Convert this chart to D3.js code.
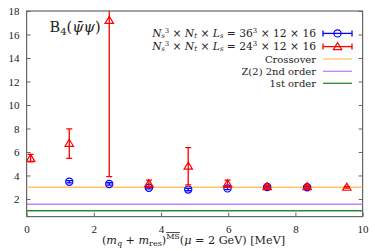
<!DOCTYPE html>
<html><head><meta charset="utf-8">
<script src="https://cdn.jsdelivr.net/npm/d3@7"></script>
<style>body{margin:0;background:#fff}svg{display:block}text{font-family:"DejaVu Serif",serif;fill:#222}</style>
</head><body><svg id="c" width="381" height="251"></svg>
<script>
const blueX = [1.27, 2.46, 3.64, 4.81, 5.98, 7.16, 8.35];
const blueY = [3.47, 3.28, 2.96, 2.80, 2.90, 3.02, 3.00];
const blueLo = [3.37, 3.18, 2.86, 2.70, 2.80, 2.94, 2.92];
const blueHi = [3.57, 3.38, 3.06, 2.90, 3.00, 3.10, 3.08];
const redX = [0.12, 1.27, 2.46, 3.64, 4.81, 5.98, 7.16, 8.35, 9.53];
const redY = [5.46, 6.74, 17.2, 3.30, 4.80, 3.30, 3.05, 3.05, 3.00];
const redLo = [5.15, 5.46, 3.9, 3.0, 3.2, 3.0, 2.92, 2.92, 2.92];
const redHi = [5.8, 7.96, 30.5, 3.6, 6.37, 3.6, 3.18, 3.18, 3.08];
const hLines = [3.0, 1.55, 1.0];
const hColors = ["#ffc46b", "#c080ff", "#2a8a2a"];
const xTicks = [0, 2, 4, 6, 8, 10];
const yTicks = [2, 4, 6, 8, 10, 12, 14, 16, 18];

const svg = d3.select("#c");
const x = d3.scaleLinear().domain([0, 10]).range([26.6, 362.6]);
const y = d3.scaleLinear().domain([0.5, 18]).range([216.6, 11]);
const [x0, x1] = x.range(), [y0, y1] = y.range();

svg.append("clipPath").attr("id","cp").append("rect").attr("x",x0).attr("y",y1).attr("width",x1-x0).attr("height",y0-y1);

const frame = "#666";
const gx = svg.append("g").attr("transform",`translate(0,${y0})`).call(d3.axisBottom(x).tickValues(xTicks).tickSize(-4).tickPadding(9).tickFormat(d3.format("d")));
const gy = svg.append("g").attr("transform",`translate(${x0},0)`).call(d3.axisLeft(y).tickValues(yTicks).tickSize(-4).tickPadding(7).tickFormat(d3.format("d")));
const gr = svg.append("g").attr("transform",`translate(${x1},0)`).call(d3.axisRight(y).tickValues(yTicks).tickSize(-4).tickFormat(""));
[gx,gy,gr].forEach(g=>{g.select(".domain").remove();g.selectAll("line").attr("stroke",frame);g.selectAll("text").style("font-size","11px").attr("fill","#222").style("font-family","'Liberation Serif',serif");});
svg.append("rect").attr("x",x0).attr("y",y1).attr("width",x1-x0).attr("height",y0-y1).attr("fill","none").attr("stroke",frame).attr("stroke-width",1.2);

const plot = svg.append("g").attr("clip-path","url(#cp)");
hLines.forEach((v,i)=>plot.append("line").attr("x1",x0).attr("x2",x1).attr("y1",y(v)).attr("y2",y(v)).attr("stroke",hColors[i]).attr("stroke-width",1.3));

function tri(cx, cy, s){ return `M${cx},${cy-s} L${cx+s*1.05},${cy+s*0.75} L${cx-s*1.05},${cy+s*0.75} Z`; }
function errbars(g, xs, lo, hi, col){
  xs.forEach((xv,i)=>{
    const px = x(xv);
    g.append("line").attr("x1",px).attr("x2",px).attr("y1",y(lo[i])).attr("y2",y(hi[i])).attr("stroke",col).attr("stroke-width",1.3);
    [lo[i],hi[i]].forEach(v=>g.append("line").attr("x1",px-3).attr("x2",px+3).attr("y1",y(v)).attr("y2",y(v)).attr("stroke",col).attr("stroke-width",1.3));
  });
}
errbars(plot, blueX, blueLo, blueHi, "#0000ff");
blueX.forEach((xv,i)=>plot.append("circle").attr("cx",x(xv)).attr("cy",y(blueY[i])).attr("r",3.6).attr("fill","none").attr("stroke","#0000ff").attr("stroke-width",1.2));
errbars(plot, redX, redLo, redHi, "#ff0000");
redX.forEach((xv,i)=>plot.append("path").attr("d",tri(x(xv),y(redY[i]),4)).attr("fill","none").attr("stroke","#ff0000").attr("stroke-width",1.2));

// title
const t = svg.append("text").attr("x",49.5).attr("y",32.3).style("font-size","14.5px");
t.append("tspan").text("B");
t.append("tspan").attr("dy",3).style("font-size","10px").text("4");
t.append("tspan").attr("dy",-3).text("(");
t.append("tspan").style("font-style","italic").text("ψ\u0304ψ");
t.append("tspan").text(")");

// legend
const lx = 316, ls0 = 323, ls1 = 352;
const rows = [33.4, 46.6, 59, 71.3, 83.3];
function mathLabel(yy, vol){
  const tx = svg.append("text").attr("x",lx).attr("y",yy+3.3).attr("text-anchor","end").style("font-size","10.7px");
  tx.append("tspan").style("font-style","italic").text("N");
  tx.append("tspan").attr("dy",1.3).style("font-size","6.5px").style("font-style","italic").text("s");
  tx.append("tspan").attr("dy",-5).style("font-size","6.5px").text("3");
  tx.append("tspan").attr("dy",3.7).text(" × ");
  tx.append("tspan").style("font-style","italic").text("N");
  tx.append("tspan").attr("dy",1.3).style("font-size","7px").style("font-style","italic").text("t");
  tx.append("tspan").attr("dy",-1.3).text(" × ");
  tx.append("tspan").style("font-style","italic").text("L");
  tx.append("tspan").attr("dy",1.3).style("font-size","7px").style("font-style","italic").text("s");
  tx.append("tspan").attr("dy",-1.3).text(" = " + vol);
  tx.append("tspan").attr("dy",-3.6).style("font-size","7px").text("3");
  tx.append("tspan").attr("dy",3.6).text(" × 12 × 16");
}
mathLabel(rows[0], "36");
mathLabel(rows[1], "24");
["Crossover","Z(2) 2nd order","1st order"].forEach((s,i)=>{
  svg.append("text").attr("x",lx).attr("y",rows[i+2]+3.5).attr("text-anchor","end").style("font-size","10px").text(s);
  svg.append("line").attr("x1",ls0).attr("x2",ls1).attr("y1",rows[i+2]).attr("y2",rows[i+2]).attr("stroke",hColors[i]).attr("stroke-width",1.3);
});
[["#0000ff",0],["#ff0000",1]].forEach(([c,i])=>{
  const yy = rows[i];
  svg.append("line").attr("x1",ls0).attr("x2",ls1).attr("y1",yy).attr("y2",yy).attr("stroke",c).attr("stroke-width",1.3);
  [ls0,ls1].forEach(px=>svg.append("line").attr("x1",px).attr("x2",px).attr("y1",yy-3).attr("y2",yy+3).attr("stroke",c).attr("stroke-width",1.3));
  const cx=(ls0+ls1)/2;
  if(i===0) svg.append("circle").attr("cx",cx).attr("cy",yy).attr("r",3.6).attr("fill","none").attr("stroke",c).attr("stroke-width",1.2);
  else svg.append("path").attr("d",tri(cx,yy,4)).attr("fill","none").attr("stroke",c).attr("stroke-width",1.2);
});

// x label
const xl = svg.append("text").attr("x",193.5).attr("y",244).attr("text-anchor","middle").style("font-size","11.2px");
xl.append("tspan").text("(");
xl.append("tspan").style("font-style","italic").text("m");
xl.append("tspan").attr("dy",2).style("font-size","8px").style("font-style","italic").text("q");
xl.append("tspan").attr("dy",-2).text(" + ");
xl.append("tspan").style("font-style","italic").text("m");
xl.append("tspan").attr("dy",2).style("font-size","8px").text("res");
xl.append("tspan").attr("dy",-2).text(")");
xl.append("tspan").attr("dy",-5).style("font-size","8px").style("text-decoration","overline").text("MS");
xl.append("tspan").attr("dy",5).text("(");
xl.append("tspan").style("font-style","italic").text("μ");
xl.append("tspan").text(" = 2 GeV) [MeV]");
</script></body></html>
